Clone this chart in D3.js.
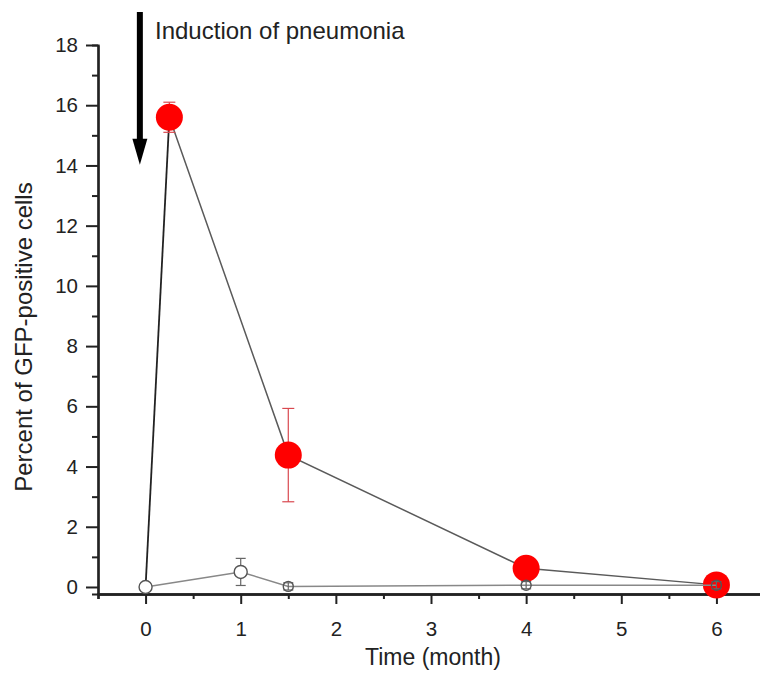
<!DOCTYPE html>
<html>
<head>
<meta charset="utf-8">
<script src="https://cdn.jsdelivr.net/npm/d3@7"></script>
<style>
  body { margin: 0; background: #fff; }
  svg { display: block; font-family: "Liberation Sans", Arial, sans-serif; }
</style>
</head>
<body>
<div id="canvas"></div>
<script>
// Data (time in months, percent of GFP-positive cells)
var pneuTime = [0, 0.25, 1.5, 4, 6];
var pneuValue = [0, 15.6, 4.38, 0.62, 0.07];
var pneuError = [0, 0.5, 1.55, 0.1, 0.05];

var ctrlTime = [0, 1, 1.5, 4, 6];
var ctrlValue = [0, 0.5, 0.02, 0.06, 0.06];
var ctrlError = [0, 0.45, 0.12, 0.12, 0.12];

var xMajor = [0, 1, 2, 3, 4, 5, 6];
var xMinor = [-0.5, 0.5, 1.5, 2.5, 3.5, 4.5, 5.5, 6.5];
var yMajor = [0, 2, 4, 6, 8, 10, 12, 14, 16, 18];
var yMinor = [1, 3, 5, 7, 9, 11, 13, 15, 17];

var width = 760,
    height = 673;

var svg = d3.select("#canvas").append("svg")
    .attr("width", width)
    .attr("height", height);

svg.append("rect")
    .attr("width", width)
    .attr("height", height)
    .attr("fill", "#fff");

// scales: the axes cross a little below and left of the origin
var x = d3.scaleLinear().domain([-0.5, 6.5]).range([98, 764]);
var y = d3.scaleLinear().domain([-0.233, 18]).range([594, 45]);

// ****************** axes ***************************

var xAxisG = svg.append("g").attr("transform", "translate(0," + y(-0.233) + ")");
xAxisG.append("g")
    .call(d3.axisBottom(x).tickValues(xMinor).tickSize(5).tickFormat(""));
xAxisG.append("g")
    .call(d3.axisBottom(x).tickValues(xMajor).tickSize(10).tickSizeOuter(0)
        .tickPadding(17).tickFormat(d3.format("d")));
xAxisG.selectAll("path.domain").attr("stroke", "#222").attr("stroke-width", 2.5);
xAxisG.selectAll(".tick line").attr("stroke", "#222").attr("stroke-width", 2);
xAxisG.selectAll(".tick text")
    .attr("font-size", 20.5)
    .attr("fill", "#222");

var yAxisG = svg.append("g").attr("transform", "translate(" + x(-0.5) + ",0)");
yAxisG.append("g")
    .call(d3.axisLeft(y).tickValues(yMinor).tickSize(6).tickFormat(""));
yAxisG.append("g")
    .call(d3.axisLeft(y).tickValues(yMajor).tickSize(12).tickSizeOuter(0).tickPadding(8));
yAxisG.selectAll("path.domain").attr("stroke", "#222").attr("stroke-width", 2.2);
yAxisG.selectAll(".tick line").attr("stroke", "#222").attr("stroke-width", 2);
yAxisG.selectAll(".tick text")
    .attr("font-size", 20.5)
    .attr("fill", "#222");

// axis titles
svg.append("text")
    .attr("x", 433)
    .attr("y", 665)
    .attr("text-anchor", "middle")
    .attr("font-size", 23)
    .attr("fill", "#222")
    .text("Time (month)");

svg.append("text")
    .attr("transform", "translate(32," + y(8.3) + ") rotate(-90)")
    .attr("text-anchor", "middle")
    .attr("font-size", 24)
    .attr("fill", "#222")
    .text("Percent of GFP-positive cells");

// ****************** annotation arrow ***************************

var arrowX = -0.06, arrowTop = 19.1, arrowTip = 14.02;
var ax = x(arrowX);
svg.append("line")
    .attr("x1", ax).attr("x2", ax)
    .attr("y1", y(arrowTop)).attr("y2", y(arrowTip) - 20)
    .attr("stroke", "#000")
    .attr("stroke-width", 6);
svg.append("path")
    .attr("d", "M" + (ax - 7.5) + "," + (y(arrowTip) - 26) +
               "L" + (ax + 7.5) + "," + (y(arrowTip) - 26) +
               "L" + ax + "," + y(arrowTip) + "Z")
    .attr("fill", "#000");

svg.append("text")
    .attr("x", 155)
    .attr("y", 39)
    .attr("font-size", 24)
    .attr("fill", "#222")
    .text("Induction of pneumonia");

// ****************** series ***************************

function rows(t, v, e) {
  return t.map(function(d, i) { return { t: d, v: v[i], e: e[i] }; });
}
var pneu = rows(pneuTime, pneuValue, pneuError);
var ctrl = rows(ctrlTime, ctrlValue, ctrlError);

var line = d3.line()
    .x(function(d) { return x(d.t); })
    .y(function(d) { return y(d.v); });

function errorBars(data, color, cap) {
  var g = svg.append("g")
      .attr("stroke", color)
      .attr("stroke-width", 1.2);
  data.filter(function(d) { return d.e > 0; }).forEach(function(d) {
    var cx = x(d.t);
    g.append("line")
        .attr("x1", cx).attr("x2", cx)
        .attr("y1", y(d.v - d.e)).attr("y2", y(d.v + d.e));
    [d.v - d.e, d.v + d.e].forEach(function(v) {
      g.append("line")
          .attr("x1", cx - cap).attr("x2", cx + cap)
          .attr("y1", y(v)).attr("y2", y(v));
    });
  });
}

// pneumonia group: big red dots; the rise from 0 is drawn darker
svg.append("path")
    .datum(pneu.slice(1))
    .attr("d", line)
    .attr("fill", "none")
    .attr("stroke", "#5a5a5a")
    .attr("stroke-width", 1.5);
svg.append("path")
    .datum(pneu.slice(0, 2))
    .attr("d", line)
    .attr("fill", "none")
    .attr("stroke", "#222")
    .attr("stroke-width", 1.8);

errorBars(pneu, "#d9484f", 6);

svg.append("g").selectAll("circle")
    .data(pneu.slice(1))
    .enter().append("circle")
    .attr("cx", function(d) { return x(d.t); })
    .attr("cy", function(d) { return y(d.v); })
    .attr("r", 13.5)
    .attr("fill", "#ff0000");

// control group: open circles, drawn on top
svg.append("path")
    .datum(ctrl)
    .attr("d", line)
    .attr("fill", "none")
    .attr("stroke", "#888")
    .attr("stroke-width", 1.5);

errorBars(ctrl, "#666", 5);

svg.append("g").selectAll("circle")
    .data(ctrl)
    .enter().append("circle")
    .attr("cx", function(d) { return x(d.t); })
    .attr("cy", function(d) { return y(d.v); })
    .attr("r", function(d) { return d.t < 1.5 ? 6.5 : 5; })
    .attr("fill", function(d) { return d.t < 1.5 ? "#fff" : "none"; })
    .attr("stroke", "#555")
    .attr("stroke-width", 1.4);
</script>
</body>
</html>
